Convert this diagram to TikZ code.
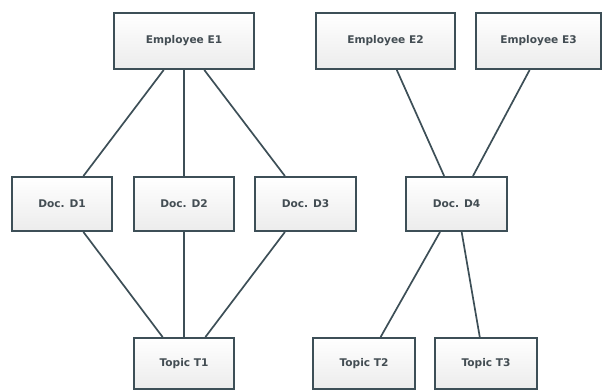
\documentclass[tikz,border=0pt]{standalone}
\usepackage{fontspec}
\setmainfont{DejaVu Sans}
\usetikzlibrary{calc}
\definecolor{edge}{HTML}{3D4F57}
\definecolor{txt}{HTML}{434D53}
\tikzset{
  box/.style={draw=edge, line width=2pt, top color=white, bottom color=gray!15,
    minimum height=56pt, inner sep=0pt, text=txt,
    font=\fontsize{10.6}{12}\selectfont\bfseries},
  link/.style={draw=edge, line width=1.7pt}
}
\begin{document}
\begin{tikzpicture}[x=1pt,y=-1pt]
\useasboundingbox (0,0) rectangle (605,391);
\node[box, minimum width=140pt] (e1) at (184,41) {Employee E1};
\node[box, minimum width=139pt] (e2) at (385.5,41) {Employee E2};
\node[box, minimum width=125pt] (e3) at (538.5,41) {Employee E3};
\node[box, minimum width=100pt, minimum height=54pt] (d1) at (62,204) {Doc. D1};
\node[box, minimum width=100pt, minimum height=54pt] (d2) at (184,204) {Doc. D2};
\node[box, minimum width=101pt, minimum height=54pt] (d3) at (305.5,204) {Doc. D3};
\node[box, minimum width=101pt, minimum height=54pt] (d4) at (456.5,204) {Doc. D4};
\node[box, minimum width=100pt, minimum height=51pt] (t1) at (184,363.5) {Topic T1};
\node[box, minimum width=102pt, minimum height=51pt] (t2) at (364,363.5) {Topic T2};
\node[box, minimum width=102pt, minimum height=51pt] (t3) at (486,363.5) {Topic T3};
% E1 -> docs
\draw[link] ($(e1.south west)!.357!(e1.south east)$) -- ($(d1.north west)!.71!(d1.north east)$);
\draw[link] (e1.south) -- (d2.north);
\draw[link] ($(e1.south west)!.643!(e1.south east)$) -- ($(d3.north west)!.30!(d3.north east)$);
% docs -> T1
\draw[link] ($(d1.south west)!.71!(d1.south east)$) -- ($(t1.north west)!.29!(t1.north east)$);
\draw[link] (d2.south) -- (t1.north);
\draw[link] ($(d3.south west)!.30!(d3.south east)$) -- ($(t1.north west)!.71!(t1.north east)$);
% E2, E3 -> D4
\draw[link] ($(e2.south west)!.58!(e2.south east)$) -- ($(d4.north west)!.38!(d4.north east)$);
\draw[link] ($(e3.south west)!.43!(e3.south east)$) -- ($(d4.north west)!.66!(d4.north east)$);
% D4 -> topics
\draw[link] ($(d4.south west)!.34!(d4.south east)$) -- ($(t2.north west)!.66!(t2.north east)$);
\draw[link] ($(d4.south west)!.55!(d4.south east)$) -- ($(t3.north west)!.44!(t3.north east)$);
\end{tikzpicture}
\end{document}
